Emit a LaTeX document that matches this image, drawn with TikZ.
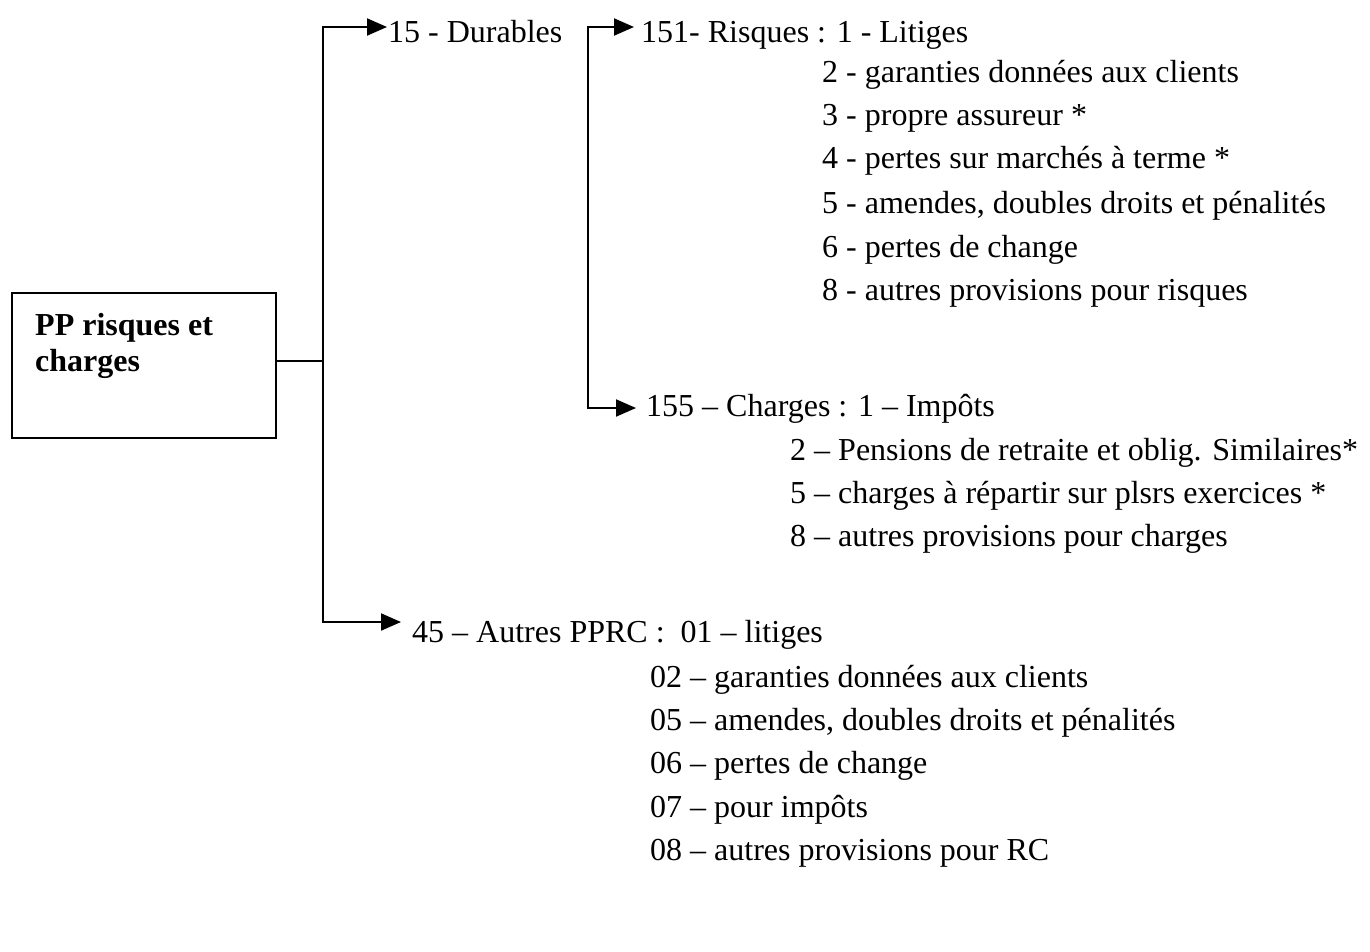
\documentclass[tikz,border=0pt]{standalone}
\usepackage{fontspec}
\setmainfont{Liberation Serif}
\usetikzlibrary{arrows.meta}
\begin{document}
\begin{tikzpicture}[x=1pt,y=-1pt,
  conn/.style={line width=2pt},
  arr/.style={line width=2pt,-{Triangle[length=20pt,width=17pt]}},
  lbl/.style={anchor=base west, inner sep=0pt, font=\fontsize{32}{38}\selectfont},
  boxlbl/.style={anchor=base west, inner sep=0pt, font=\fontsize{32}{38}\selectfont\bfseries},
  mainbox/.style={draw, line width=2pt, minimum width=264pt, minimum height=145pt, anchor=north west, inner sep=0pt}]
\useasboundingbox (0,0) rectangle (1370,951);

% main box
\node[mainbox] (box) at (11,292) {};
\node[boxlbl] (boxa) at (35,335) {PP risques et};
\node[boxlbl] (boxb) at (35,371) {charges};

% first level
\node[lbl] (t15) at (388,42) {15 - Durables};
\node[lbl] (t45) at (412,642) {45 – Autres PPRC :\ \ 01 – litiges};

% 151 risques
\node[lbl] (t151) at (641,42) {151- Risques : 1 - Litiges};
\node[lbl] (r2) at (822,82) {2 - garanties données aux clients};
\node[lbl] (r3) at (822,125) {3 - propre assureur *};
\node[lbl] (r4) at (822,168) {4 - pertes sur marchés à terme *};
\node[lbl] (r5) at (822,213) {5 - amendes, doubles droits et pénalités};
\node[lbl] (r6) at (822,257) {6 - pertes de change};
\node[lbl] (r8) at (822,300) {8 - autres provisions pour risques};

% 155 charges
\node[lbl] (t155) at (646,416) {155 – Charges : 1 – Impôts};
\node[lbl] (c2) at (790,460) {2 – Pensions de retraite et oblig. Similaires*};
\node[lbl] (c5) at (790,503) {5 – charges à répartir sur plsrs exercices *};
\node[lbl] (c8) at (790,546) {8 – autres provisions pour charges};

% 45 autres
\node[lbl] (a02) at (650,687) {02 – garanties données aux clients};
\node[lbl] (a05) at (650,730) {05 – amendes, doubles droits et pénalités};
\node[lbl] (a06) at (650,773) {06 – pertes de change};
\node[lbl] (a07) at (650,817) {07 – pour impôts};
\node[lbl] (a08) at (650,860) {08 – autres provisions pour RC};

% connectors
\coordinate (j1) at (323,361);
\coordinate (tp15) at (387,27);
\coordinate (tp45) at (401,622);
\coordinate (k2t) at (588,27);
\coordinate (k2b) at (588,408);
\coordinate (tp151) at (634,27);
\coordinate (tp155) at (636,408);

\draw[conn] (box.east |- j1) -- (j1);
\draw[arr] (j1) |- (tp15);
\draw[arr] (j1) |- (tp45);
\draw[arr] (k2b) |- (tp151);
\draw[arr] (k2t) |- (tp155);
\end{tikzpicture}
\end{document}
